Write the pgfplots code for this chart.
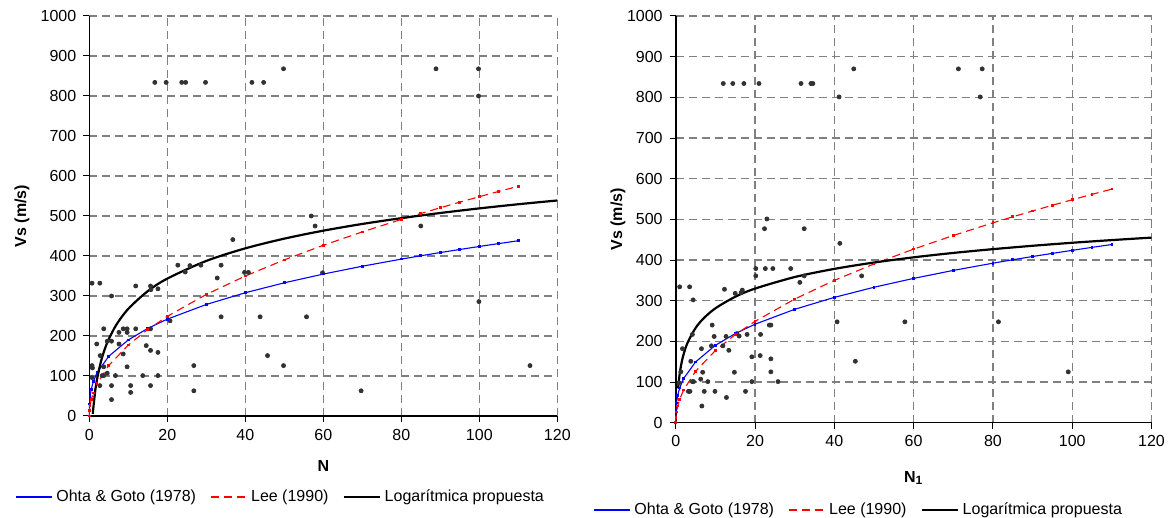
\documentclass[border=0pt]{standalone}
\usepackage{fontspec}
\setmainfont{Liberation Sans}
\usepackage{pgfplots}
\pgfplotsset{compat=1.18}

\definecolor{ptc}{RGB}{50,50,50}
\definecolor{gridc}{RGB}{128,128,128}

\pgfplotsset{
 myaxis/.style={
  scale only axis, axis lines=left, axis line style={-, black, line width=0.8pt},
  xmin=0,xmax=120,ymin=0,ymax=1000,
  xtick={0,20,...,120}, ytick={0,100,...,1000},
  tick align=outside, major tick length=3pt, tick style={black, line width=0.5pt},
  grid=major, major grid style={gridc, line width=0.6pt, dash pattern=on 4pt off 2.5pt},
  /pgf/number format/assume math mode=true,
  /pgf/number format/1000 sep={},
  tick label style={font=\fontsize{8}{9.6}\selectfont},
  label style={font=\fontsize{8}{9.6}\selectfont\bfseries},
  clip=false,
  legend columns=3,
  legend style={draw=none, fill=none, inner sep=0pt, font=\fontsize{8}{9.6}\selectfont,
    /tikz/every even column/.append style={column sep=5pt}},
  legend image code/.code={\draw[mark repeat=2,mark phase=2,##1] plot coordinates {(0pt,0pt) (9pt,0pt) (18pt,0pt)};},
  ylabel={Vs (m/s)},
 },
 ohta/.style={blue, line width=0.55pt, mark=square*, mark size=0.4pt, mark options={solid}},
 lee/.style={red, line width=0.55pt, dash pattern=on 4pt off 2.5pt, mark=square*, mark size=0.4pt, mark options={solid}},
 logp/.style={black, line width=1.1pt, no marks},
 pts/.style={only marks, mark=*, mark size=1pt, color=ptc, forget plot},
}

\begin{document}
\begin{tikzpicture}
\useasboundingbox (0,0) rectangle (585.5pt,259pt);
% ---------------- left ----------------
\begin{axis}[myaxis, at={(44.65pt,51pt)}, anchor=south west, width=234pt, height=200pt,
  xlabel={N}, xlabel style={at={(axis description cs:0.5,-0.125)}, anchor=center},
  ylabel style={at={(axis description cs:-0.1438,0.5)}, anchor=center},
  legend style={at={(-0.159,-0.2025)}, anchor=west}]
\addplot[pts] coordinates {
(16.8,834)(19.7,834)(23.7,834)(24.7,834)(29.8,834)(41.7,834)(44.7,834)(49.8,868)(88.9,868)(99.8,868)(99.8,800)
(56.9,500)(57.9,475)(85,475)(36.8,441)(22.7,377)(25.8,376)(28.6,377)(33.8,377)(24.6,360)(39.8,359)(40.8,359)(59.8,358)(32.8,345)
(0.7,332)(2.7,332)(11.9,325)(15.7,325)(15.8,316)(17.6,318)(5.7,300)(99.9,286)
(20.7,238)(33.8,248)(43.8,248)(55.7,248)(45.7,151)(49.8,126)(26.8,126)(26.8,63)(69.7,63)(113,126)
(0.7,126)(0.8,120)(0.7,96)(1.9,180)(2.8,151)(3.7,218)(3.7,123)(3.3,101)(3.7,101)(2.7,76)(4.6,187)(5.7,187)(4.6,107)(5.7,76)(5.7,41)
(6.7,101)(7.6,209)(7.6,180)(8.7,218)(8.7,155)(9.7,218)(9.7,209)(9.7,123)(10.6,76)(10.6,59)(11.9,218)(13.7,101)(14.6,176)
(15.7,164)(15.7,218)(15.7,76)(17.6,159)(17.6,101)
};
\addplot[ohta] coordinates {
(0,0)(0.05,30.1)(0.2,48.7)(0.5,67.1)(1,85.4)(2,108.6)(5,149.4)(10,190.2)(15,219.0)(20,242.1)(30,278.8)(40,308.1)(50,333.0)
(60,354.8)(70,374.4)(80,392.2)(85,400.6)(90,408.6)(95,416.3)(100,423.8)(105,431.1)(110,438.1)
};
\addlegendentry{Ohta \& Goto (1978)}
\addplot[lee] coordinates {
(0,0)(0.05,13.2)(0.2,26.1)(0.5,40.9)(1,57.4)(2,80.6)(5,126.3)(10,177.4)(15,216.4)(20,249.1)(30,303.9)(40,349.9)(50,390.3)
(60,426.8)(70,460.3)(80,491.4)(85,506.2)(90,520.6)(95,534.6)(100,548.2)(105,561.5)(110,574.3)
};
\addlegendentry{Lee (1990)}
\addplot[logp, smooth] coordinates {
(0.9,5.5)(1,17)(1.5,61.2)(2,92.6)(3,136.7)(4,168.1)(5,192.4)(7,229.1)(10,268)(15,312.2)(20,343.5)(30,387.7)(40,419.1)
(50,443.4)(60,463.3)(70,480.1)(80,494.6)(90,507.5)(100,519)(110,529.4)(120,538.8)
};
\addlegendentry{Logarítmica propuesta}
\end{axis}
% ---------------- right ----------------
\begin{axis}[myaxis, at={(337.85pt,47.65pt)}, anchor=south west, width=237.9pt, height=203.35pt,
  xlabel={N\textsubscript{1}}, xlabel style={at={(axis description cs:0.5,-0.136)}, anchor=center},
  ylabel style={at={(axis description cs:-0.1213,0.5)}, anchor=center},
  legend style={at={(-0.174,-0.2147)}, anchor=west}]
\addplot[pts] coordinates {
(12.0,834)(14.4,834)(17.2,834)(21.0,834)(31.6,834)(34.1,834)(34.6,834)(41.2,801)(44.9,870)(71.3,870)(77.3,870)(76.8,801)
(23.0,501)(22.4,477)(32.4,477)(41.4,441)(20.2,379)(22.6,379)(24.5,379)(29.0,379)(20.2,361)(31.3,345)(32.4,361)(46.9,361)
(1.0,334)(3.5,334)(4.4,302)(12.3,328)(15.0,318)(16.8,326)(16.5,320)
(9.2,240)(9.7,212)(12.7,212)(9.0,189)(11.9,189)(13.4,178)(15.4,219)(16.0,213)(18.0,217)(21.4,217)(23.6,240)(24.0,240)
(40.7,248)(57.8,248)(81.4,248)(45.3,151)(99.0,125)(1.7,182)(3.8,151)(4.2,217)(1.3,125)(0.8,98)(4.2,101)(4.5,101)
(3.2,77)(3.6,77)(6.3,107)(6.8,124)(6.5,182)(8.1,101)(7.2,77)(6.6,41)(9.9,77)(12.8,62)(14.8,124)(17.6,77)
(19.2,162)(19.2,101)(21.3,165)(24.0,157)(24.0,125)(25.8,101)
};
\addplot[ohta] coordinates {
(0,0)(0.05,30.1)(0.2,48.7)(0.5,67.1)(1,85.4)(2,108.6)(5,149.4)(10,190.2)(15,219.0)(20,242.1)(30,278.8)(40,308.1)(50,333.0)
(60,354.8)(70,374.4)(80,392.2)(85,400.6)(90,408.6)(95,416.3)(100,423.8)(105,431.1)(110,438.1)
};
\addlegendentry{Ohta \& Goto (1978)}
\addplot[lee] coordinates {
(0,0)(0.05,13.2)(0.2,26.1)(0.5,40.9)(1,57.4)(2,80.6)(5,126.3)(10,177.4)(15,216.4)(20,249.1)(30,303.9)(40,349.9)(50,390.3)
(60,426.8)(70,460.3)(80,491.4)(85,506.2)(90,520.6)(95,534.6)(100,548.2)(105,561.5)(110,574.3)
};
\addlegendentry{Lee (1990)}
\addplot[logp, smooth] coordinates {
(0.6,84.2)(1,120)(1.5,148.4)(2,168.5)(3,196.9)(5,232.7)(7,256.2)(10,281.2)(15,309.6)(20,329.7)(30,358.1)(40,378.2)
(50,393.8)(60,406.6)(70,417.4)(80,426.7)(90,435)(100,442.4)(110,449)(120,455.1)
};
\addlegendentry{Logarítmica propuesta}
\end{axis}
\end{tikzpicture}
\end{document}
